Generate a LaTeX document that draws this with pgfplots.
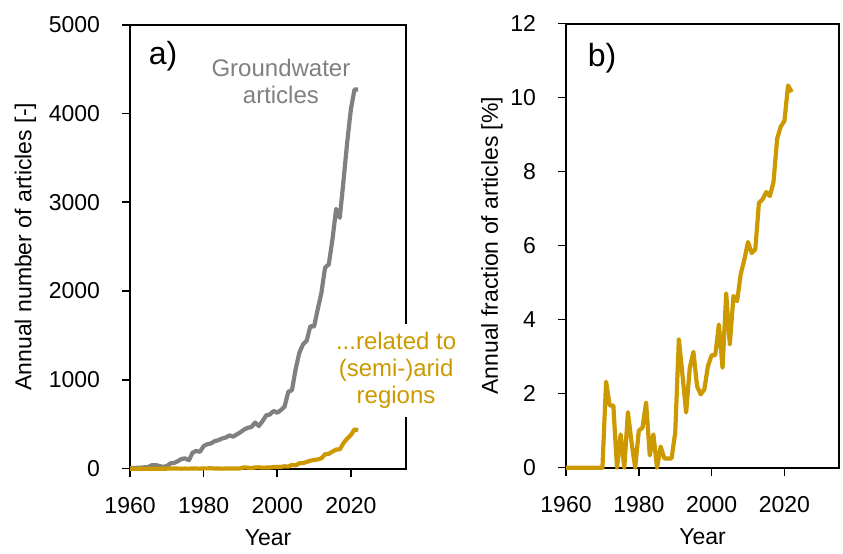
\documentclass[border=0pt]{standalone}
\usepackage{fontspec}
\setmainfont{Liberation Sans}
\usepackage{pgfplots}
\pgfplotsset{compat=1.18}
\definecolor{gwgrey}{RGB}{128,128,128}
\definecolor{gwgold}{RGB}{204,153,0}
\pgfplotsset{panel/.style={
  scale only axis,width=138pt,height=222pt,
  xmin=1960,xmax=2035,xtick={1960,1980,2000,2020},
  tick pos=left,tick align=outside,major tick length=4pt,
  axis line style={black,line width=1pt},tick style={black,line width=0.8pt},
  /pgf/number format/assume math mode=true,
  /pgf/number format/set thousands separator={},
  xticklabel style={yshift=-6.5pt},yticklabel style={xshift=-7pt},
  xlabel={Year},xlabel style={yshift=0pt},
  clip=false}}
\begin{document}
\fontsize{11.5}{14}\selectfont
\begin{tikzpicture}
\begin{axis}[panel,ymin=0,ymax=5000,ytick={0,1000,2000,3000,4000,5000},
  ylabel={Annual number of articles [-]},ylabel style={yshift=-1.5pt}]
\addplot[gwgrey,line width=2.1pt,line join=round] coordinates {
(1960,5)(1961,8)(1962,10)(1963,12)(1964,15)(1965,20)(1966,40)(1967,40)(1968,30)(1969,20)
(1970,30)(1971,60)(1972,65)(1973,85)(1974,110)(1975,115)(1976,95)(1977,180)(1978,200)(1979,190)
(1980,255)(1981,275)(1982,285)(1983,310)(1984,320)(1985,340)(1986,350)(1987,375)(1988,360)(1989,385)
(1990,410)(1991,440)(1992,460)(1993,470)(1994,520)(1995,480)(1996,535)(1997,600)(1998,610)(1999,650)
(2000,630)(2001,660)(2002,700)(2003,865)(2004,885)(2005,1120)(2006,1305)(2007,1400)(2008,1440)(2009,1605)
(2010,1600)(2011,1795)(2012,1980)(2013,2265)(2014,2300)(2015,2580)(2016,2925)(2017,2825)(2018,3240)(2019,3670)
(2020,4045)(2021,4270)(2022,4270)};
\addplot[gwgold,line width=2.1pt,line join=round] coordinates {
(1960,0)(1961,0)(1962,0)(1963,0)(1964,0)(1965,0)(1966,0)(1967,0)(1968,0)(1969,0)
(1970,0)(1971,3)(1972,1)(1973,1)(1974,0)(1975,1)(1976,0)(1977,3)(1978,1)(1979,0)
(1980,3)(1981,3)(1982,5)(1983,1)(1984,3)(1985,0)(1986,2)(1987,1)(1988,1)(1989,1)
(1990,4)(1991,15)(1992,11)(1993,7)(1994,14)(1995,15)(1996,12)(1997,12)(1998,13)(1999,18)
(2000,19)(2001,20)(2002,27)(2003,23)(2004,42)(2005,37)(2006,61)(2007,63)(2008,75)(2009,90)
(2010,98)(2011,104)(2012,117)(2013,162)(2014,167)(2015,192)(2016,215)(2017,218)(2018,288)(2019,338)
(2020,379)(2021,441)(2022,433)};
\node[font=\fontsize{16}{18}\selectfont] at (axis cs:1969,4650) {a)};
\node[gwgrey,align=center,font=\fontsize{12}{13.5}\selectfont] at (axis cs:2001,4364) {Groundwater\\articles};
\node[gwgold,align=center,fill=white,inner xsep=1pt,inner ysep=4pt,font=\fontsize{12}{13.5}\selectfont] at (axis cs:2032.3,1104) {...related to\\(semi-)arid\\regions};
\end{axis}
\begin{axis}[panel,at={(218pt,0.5pt)},width=136.5pt,ymin=0,ymax=12,ytick={0,2,4,6,8,10,12},
  ylabel={Annual fraction of articles [\%]},ylabel style={yshift=-4pt}]
\addplot[gwgold,line width=2.1pt,line join=round] coordinates {
(1960,0)(1961,0)(1962,0)(1963,0)(1964,0)(1965,0)(1966,0)(1967,0)(1968,0)(1969,0)
(1970,0)(1971,2.32)(1972,1.68)(1973,1.68)(1974,0)(1975,0.9)(1976,0)(1977,1.5)(1978,0.68)(1979,0)
(1980,1.0)(1981,1.08)(1982,1.76)(1983,0.33)(1984,0.9)(1985,0)(1986,0.57)(1987,0.25)(1988,0.25)(1989,0.25)
(1990,0.95)(1991,3.47)(1992,2.5)(1993,1.49)(1994,2.7)(1995,3.13)(1996,2.2)(1997,1.98)(1998,2.12)(1999,2.75)
(2000,3.04)(2001,3.04)(2002,3.87)(2003,2.7)(2004,4.71)(2005,3.33)(2006,4.64)(2007,4.5)(2008,5.23)(2009,5.63)
(2010,6.1)(2011,5.8)(2012,5.9)(2013,7.16)(2014,7.25)(2015,7.45)(2016,7.34)(2017,7.72)(2018,8.89)(2019,9.22)
(2020,9.37)(2021,10.33)(2022,10.15)};
\node[font=\fontsize{16}{18}\selectfont] at (axis cs:1969.9,11.08) {b)};
\end{axis}
\path ([yshift=4pt]current bounding box.north) circle (0pt);
\path ([xshift=-3.5pt]current bounding box.west) circle (0pt);
\path ([xshift=1.5pt]current bounding box.east) circle (0pt);
\end{tikzpicture}
\end{document}
